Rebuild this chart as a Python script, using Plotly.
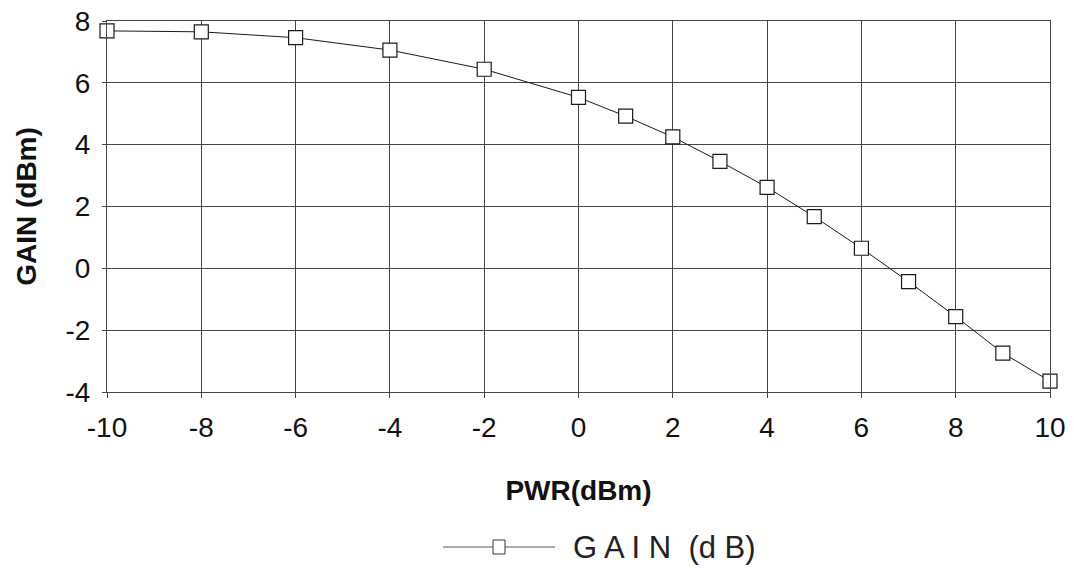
import plotly.graph_objects as go

pwr = [-10, -8, -6, -4, -2, 0, 1, 2, 3, 4, 5, 6, 7, 8, 9, 10]
gain = [7.68, 7.65, 7.46, 7.06, 6.44, 5.53, 4.92, 4.25, 3.46, 2.62, 1.67, 0.65, -0.43, -1.56, -2.74, -3.65]
x_ticks = [-10, -8, -6, -4, -2, 0, 2, 4, 6, 8, 10]
x_ticktext = ["-10", "-8", "-6", "-4", "-2", "0", "2", "4", "6", "8", "10"]
y_ticks = [-4, -2, 0, 2, 4, 6, 8]
y_ticktext = ["-4", "-2", "0", "2", "4", "6", "8"]
series_name = "GAIN (dB)"

W, H = 1074, 581
L, R, T, B = 107, 24, 21, 189
pw, ph = W - L - R, H - T - B

def px_x(px):
    return (px - L) / pw

def px_y(py):
    return (H - B - py) / ph

fig = go.Figure()
fig.add_trace(go.Scatter(
    x=pwr, y=gain, mode="lines+markers", name=series_name, showlegend=False,
    line=dict(color="#1a1a1a", width=1),
    marker=dict(symbol="square", size=14, color="white", line=dict(color="#1a1a1a", width=1.2)),
    cliponaxis=False,
))

font = "Liberation Sans, Arial, sans-serif"
grid = "#444444"

# manual legend (long sample line as in the reference)
leg_y = px_y(547)
fig.add_shape(type="line", xref="paper", yref="paper", x0=px_x(443), x1=px_x(555), y0=leg_y, y1=leg_y,
              line=dict(color="#555555", width=1))
fig.add_shape(type="rect", xref="paper", yref="paper", xsizemode="pixel", ysizemode="pixel",
              xanchor=px_x(499), yanchor=leg_y, x0=-6, x1=6, y0=-7, y1=7,
              line=dict(color="#333333", width=1), fillcolor="white")
fig.add_annotation(xref="paper", yref="paper", x=px_x(571), y=leg_y, xanchor="left", yanchor="middle",
                   text="G A I N  (d B)", showarrow=False, font=dict(size=31, family=font, color="#222222"))

fig.update_layout(
    width=W, height=H,
    margin=dict(l=L, r=R, t=T, b=B, autoexpand=False),
    paper_bgcolor="white", plot_bgcolor="white",
    font=dict(family=font, color="#111111"),
    showlegend=False,
    xaxis=dict(range=[-10, 10], tickvals=x_ticks, ticktext=x_ticktext, showgrid=True, gridcolor=grid, gridwidth=1,
               showline=True, linecolor=grid, mirror=True, zeroline=False, automargin=False,
               ticks="outside", ticklen=5, tickcolor=grid, ticklabelstandoff=5,
               tickfont=dict(size=28, family=font),
               title=dict(text="<b>PWR(dBm)</b>", font=dict(size=28, family=font), standoff=38)),
    yaxis=dict(range=[-4, 8], tickvals=y_ticks, ticktext=y_ticktext, showgrid=True, gridcolor=grid, gridwidth=1,
               showline=True, linecolor=grid, mirror=True, zeroline=False, automargin=False,
               ticks="outside", ticklen=4, tickcolor=grid, ticklabelstandoff=6,
               tickfont=dict(size=28, family=font),
               title=dict(text="<b>GAIN (dBm)</b>", font=dict(size=28, family=font), standoff=20)),
)
fig.write_html("out.html", config={"displayModeBar": False},
               post_script="document.body.style.margin='0';")
